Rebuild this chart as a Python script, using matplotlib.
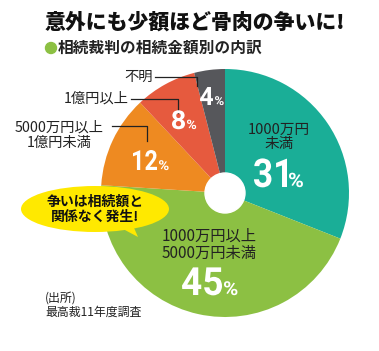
import matplotlib
matplotlib.use("Agg")
import matplotlib.pyplot as plt
from matplotlib.patches import Ellipse, Polygon, Circle, PathPatch
from matplotlib.textpath import TextPath
from matplotlib.font_manager import FontProperties
from matplotlib.transforms import Affine2D

plt.rcParams['font.family'] = ['Noto Sans CJK JP', 'DejaVu Sans']

# data
categories = ["1000万円\n未満", "1000万円以上\n5000万円未満", "5000万円以上\n1億円未満", "1億円以上", "不明"]
shares = [31, 45, 12, 8, 4]
colors = ["#1aae97", "#8cc043", "#ee8a21", "#e65a3e", "#56575b"]

title = "意外にも少額ほど骨肉の争いに!"
subtitle = "相続裁判の相続金額別の内訳"
bubble_text = "争いは相続額と\n関係なく発生!"
source = "(出所)\n最高裁11年度調査"

W, H = 379, 351
fig = plt.figure(figsize=(W / 100, H / 100), dpi=100)
ax = fig.add_axes([0, 0, 1, 1])


def Y(y):
    # image pixel row -> axes y
    return H - y


cx, cy, r = 225, Y(193), 124
ax.pie(shares, colors=colors, startangle=90, counterclock=False,
       center=(cx, cy), radius=r, wedgeprops=dict(linewidth=0))
ax.set_xlim(0, W)
ax.set_ylim(0, H)
ax.set_aspect("equal")
ax.axis("off")
ax.add_patch(Circle((cx, cy), 20, color="white", zorder=5))

# title
ax.text(45, Y(22), title, fontsize=15, fontweight="heavy", va="center", ha="left", color="#111")
ax.add_patch(Circle((51, Y(48)), 5.5, color="#8cc043"))
ax.text(58, Y(48), subtitle, fontsize=11.3, fontweight="bold", va="center", ha="left", color="#222")

# labels inside wedges
ax.text(279, Y(137), categories[0], fontsize=10.5, ha="center", va="center", color="#222", linespacing=1.05)
ax.text(209, Y(245), categories[1], fontsize=11, ha="center", va="center", color="#222", linespacing=1.05)

# outside labels with leader lines
lab_kw = dict(fontsize=10.3, color="#222", va="center")
ax.text(153, Y(77), categories[4], ha="right", **lab_kw)
ax.plot([155, 197, 197], [Y(77), Y(77), Y(86)], color="#222", lw=0.9)
ax.text(129, Y(99), categories[3], ha="right", **lab_kw)
ax.plot([131, 178, 178], [Y(99), Y(99), Y(113)], color="#222", lw=0.9)
ax.text(59, Y(135), categories[2], ha="center", linespacing=1.1, **lab_kw)
ax.plot([112, 147, 147], [Y(126), Y(126), Y(141)], color="#222", lw=0.9)

# percentages: condensed bold digits drawn as paths
num_prop = FontProperties(family="Roboto", weight="bold")


def draw_path(s, x, base, h, w):
    tp = TextPath((0, 0), s, size=10, prop=num_prop)
    ext = tp.get_extents()
    tr = (Affine2D().translate(-ext.x0, 0)
          .scale(w / ext.width, h / ext.height).translate(x, Y(base)))
    ax.add_patch(PathPatch(tr.transform_path(tp), color="white", lw=0, zorder=6))


# left, baseline, digit height, digit width (pixels)
pct_box = [(254, 187, 29, 33), (182, 295, 28, 40), (133, 170, 20, 24), (172, 129, 19, 13), (200, 105, 18, 13)]
for (x, base, h, w), v in zip(pct_box, shares):
    draw_path(f"{v}", x, base, h, w)
    draw_path("%", x + w + 2, base, h * 0.5, h * 0.48)

# speech bubble
ax.add_patch(Polygon([(110, Y(222)), (138, Y(237)), (128, Y(214))], closed=True,
                     color="#ffe900", zorder=6, lw=0))
ax.add_patch(Ellipse((95, Y(209)), 148, 46, color="#ffe900", zorder=6, lw=0))
ax.text(95, Y(209), bubble_text, fontsize=10, fontweight="bold", ha="center", va="center",
        color="#111", linespacing=1.1, zorder=7)

# source
ax.text(45, Y(305), source, fontsize=8.6, ha="left", va="center", color="#222", linespacing=1.15)

fig.savefig("out.png", dpi=100)
